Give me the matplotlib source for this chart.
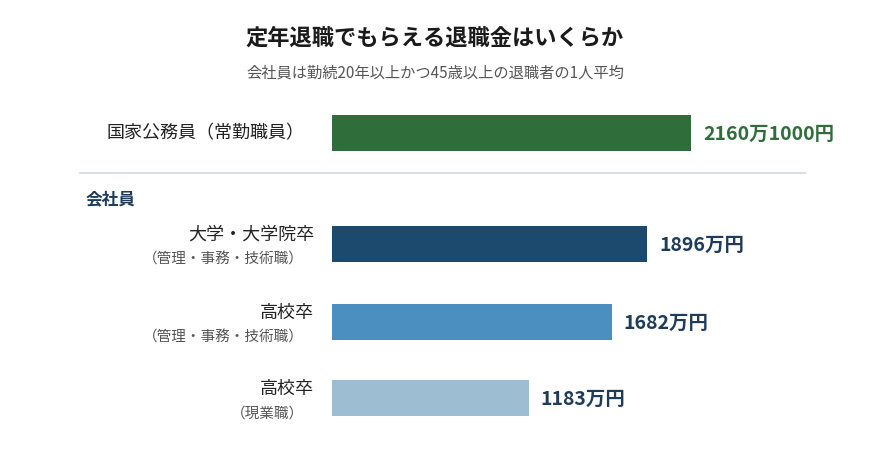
import matplotlib
matplotlib.use("Agg")
import matplotlib.pyplot as plt

plt.rcParams['font.family'] = ['Noto Sans CJK JP', 'DejaVu Sans']

labels_main = ["国家公務員（常勤職員）", "大学・大学院卒", "高校卒", "高校卒"]
labels_sub = ["", "（管理・事務・技術職）", "（管理・事務・技術職）", "（現業職）"]
values = [2160.1, 1896, 1682, 1183]
value_text = ["2160万1000円", "1896万円", "1682万円", "1183万円"]
colors = ["#2f6e3b", "#1b4a6e", "#4b8fc1", "#9dbdd3"]
text_colors = ["#2f6e3b", "#1e3b5a", "#1e3b5a", "#1e3b5a"]
ypos = [133, 244, 322, 398]

W, H = 870, 467
scale = 359 / 2160.1  # px per 万円
fig = plt.figure(figsize=(W/100, H/100), dpi=100)
ax = fig.add_axes([332/W, 0, (W-332)/W, 1])
ax.set_xlim(0, (W-332)/scale)
ax.set_ylim(H, 0)
ax.axis('off')

ax.barh(ypos, values, height=36, color=colors)
px = lambda p: (p - 332) / scale
for y, v, t, c, m, s in zip(ypos, values, value_text, text_colors, labels_main, labels_sub):
    ax.text(v + 12/scale, y + 1, t, ha='left', va='center', fontsize=14, fontweight='bold', color=c)
    if s:
        ax.text(px(314), y - 9, m, ha='right', va='center', fontsize=13, color='#222222', clip_on=False)
        ax.text(px(304), y + 16, s, ha='right', va='center', fontsize=10.5, color='#555555', clip_on=False)
    else:
        ax.text(px(305), y, m, ha='right', va='center', fontsize=13, color='#222222', clip_on=False)

ax.plot([px(80), px(805)], [173, 173], color='#d5dbe6', lw=1.3, clip_on=False)
ax.text(px(86), 199, "会社員", ha='left', va='center', fontsize=12, fontweight='bold', color='#1e3b5a', clip_on=False)

fig.text(435/W, 1 - 38/H, "定年退職でもらえる退職金はいくらか", ha='center', va='center', fontsize=16, fontweight='bold', color='#1a1a1a')
fig.text(435/W, 1 - 73/H, "会社員は勤続20年以上かつ45歳以上の退職者の1人平均", ha='center', va='center', fontsize=11, color='#555555')

fig.savefig("out.png", dpi=100, facecolor='white')
